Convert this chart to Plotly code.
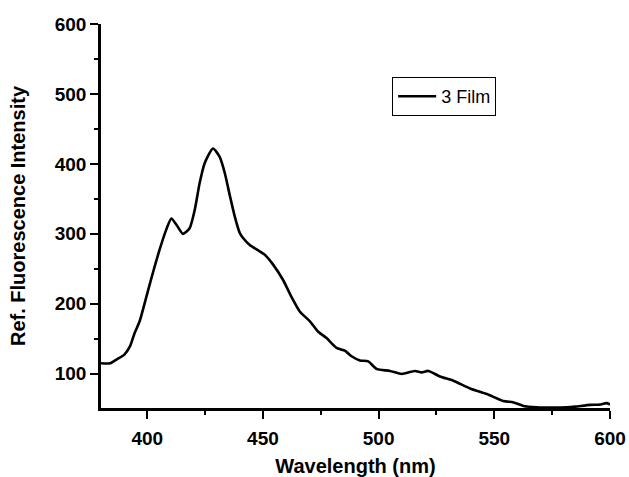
import plotly.graph_objects as go

wavelength = [380, 384, 387, 390, 392.5, 394.5, 396.7, 399.6, 402.4, 405.3, 408.2, 410.4,
              412.6, 415.4, 418.3, 420.5, 422.6, 424.8, 428.4, 431.3, 433.5, 435.6, 437.8,
              440, 441.4, 444.3, 450.8, 454.4, 458.7, 462.3, 465.9, 470.3, 473.9, 477.5,
              481.8, 485.4, 488.3, 491.9, 495.5, 499.1, 504.9, 510, 515.7, 518.6, 521.5,
              526.5, 532.3, 539.5, 546.8, 553.9, 558.3, 562.6, 568.4, 575, 581.4, 585,
              591.5, 596, 598.5, 600]
intensity = [115, 115, 121, 127, 139, 158, 175, 210, 244, 277, 306, 322,
             313, 300, 308, 334, 372, 401, 422, 410, 387, 356, 325,
             301, 294, 284, 270, 256, 234, 210, 189, 175, 160, 151,
             137, 133, 125, 119, 117.6, 107, 104, 99.6, 104, 102, 104,
             96, 90, 79, 71, 61, 59, 54, 52, 51.5, 52, 53,
             55.5, 56, 58, 56]
series_name = "3 Film"

x_ticks = [400, 450, 500, 550, 600]
x_minor = [425, 475, 525, 575]
y_ticks = [100, 200, 300, 400, 500, 600]
y_minor = [150, 250, 350, 450, 550]

fig = go.Figure()
fig.add_trace(go.Scatter(
    x=wavelength, y=intensity, mode="lines", name=series_name,
    line=dict(color="black", width=2.6, shape="spline", smoothing=0.6),
))

FAM = "Liberation Sans, Arial"
tick_font = dict(family=FAM, size=19, color="black")
title_font = dict(family=FAM, size=20, color="black")

fig.update_layout(
    width=629, height=477,
    margin=dict(l=101, r=19, t=24, b=69),
    paper_bgcolor="white", plot_bgcolor="white",
    showlegend=True,
    legend=dict(
        x=0.572, y=0.862, xanchor="left", yanchor="top",
        bordercolor="black", borderwidth=1, bgcolor="white",
        font=dict(family=FAM, size=18, color="black"),
        itemwidth=38,
    ),
)
fig.update_xaxes(
    range=[380, 600], tickvals=x_ticks, ticktext=["<b>%d</b>" % v for v in x_ticks],
    automargin=False,
    showgrid=False, zeroline=False,
    showline=True, linecolor="black", linewidth=2.5,
    ticks="outside", ticklen=8, tickwidth=2, tickcolor="black",
    ticklabelstandoff=3,
    minor=dict(ticks="outside", ticklen=4, tickwidth=2, tickcolor="black", tickvals=x_minor),
    tickfont=tick_font,
    title=dict(text="<b>Wavelength (nm)</b>", font=title_font, standoff=22),
)
fig.update_yaxes(
    range=[51, 600], tickvals=y_ticks, ticktext=["<b>%d</b>" % v for v in y_ticks],
    automargin=False,
    showgrid=False, zeroline=False,
    showline=True, linecolor="black", linewidth=2.5,
    ticks="outside", ticklen=8, tickwidth=2, tickcolor="black",
    minor=dict(ticks="outside", ticklen=4, tickwidth=2, tickcolor="black", tickvals=y_minor),
    tickfont=tick_font,
    title=dict(text="<b>Ref. Fluorescence Intensity</b>", font=title_font, standoff=24),
)

fig.write_html("out.html")
